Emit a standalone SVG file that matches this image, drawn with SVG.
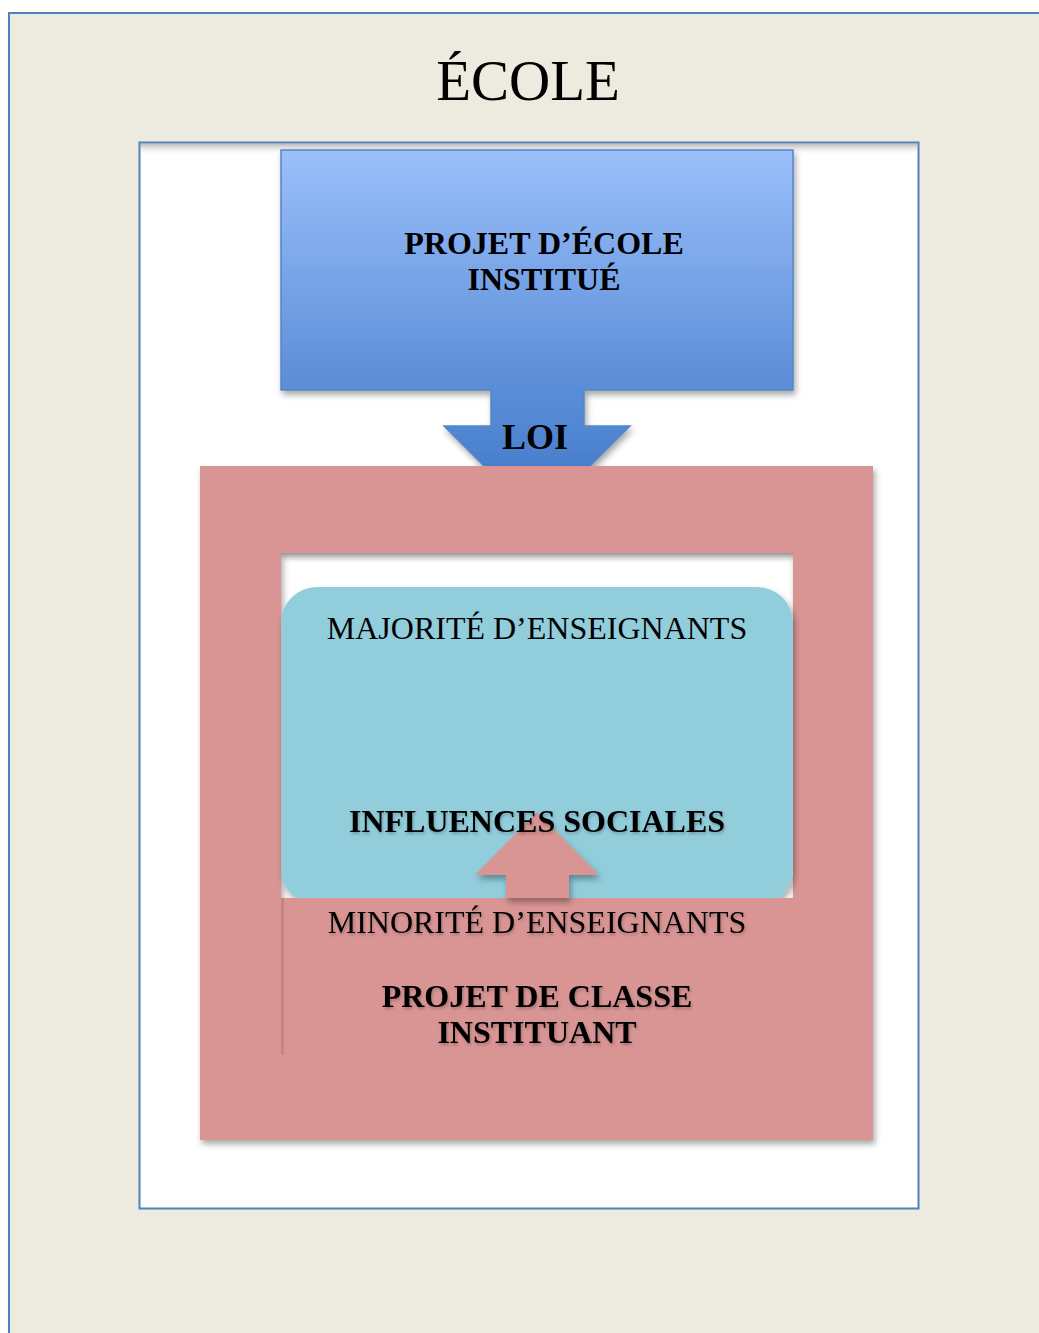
<svg xmlns="http://www.w3.org/2000/svg" width="1039" height="1333" viewBox="0 0 1039 1333">
<defs>
<linearGradient id="gBlue" gradientUnits="userSpaceOnUse" x1="0" y1="150" x2="0" y2="519">
<stop offset="0" stop-color="#9BBFFB"/>
<stop offset="0.62" stop-color="#5C8FD8"/>
<stop offset="1" stop-color="#3E77C8"/>
</linearGradient>
<filter id="sh" x="-10%" y="-10%" width="120%" height="120%">
<feDropShadow dx="2" dy="4" stdDeviation="3" flood-color="#000" flood-opacity="0.35"/>
</filter>
<filter id="tsh" x="-10%" y="-30%" width="120%" height="160%">
<feDropShadow dx="1" dy="2" stdDeviation="1.5" flood-color="#000" flood-opacity="0.25"/>
</filter>
<linearGradient id="inShadow" x1="0" y1="0" x2="0" y2="1">
<stop offset="0" stop-color="#888" stop-opacity="0.6"/>
<stop offset="1" stop-color="#fff" stop-opacity="0"/>
</linearGradient>
</defs>
<style>
.frame{stroke:#4F81BD;stroke-width:2}
.pink{fill:#D99594}
.t{font-family:"Liberation Serif","Times New Roman",serif;text-anchor:middle;fill:#000}
.b{font-weight:bold;font-size:32px}
.r{font-size:32px}
</style>
<rect width="1039" height="1333" fill="#FFFFFF"/>
<g id="ecole">
<rect class="frame" x="9" y="13" width="1040" height="1330" fill="#EDEBE0"/>
<text class="t" x="528" y="100" font-size="57">ÉCOLE</text>
</g>
<g id="zone">
<rect class="frame" x="139.5" y="142.5" width="779" height="1066" fill="#FFFFFF"/>
<rect x="140.5" y="143.5" width="777" height="12" fill="url(#inShadow)"/>
</g>
<g id="projet-ecole" filter="url(#sh)">
<path d="M281,150 H793 V390 H584 V426 H630 L537,519 L444,426 H491 V390 H281 Z" fill="url(#gBlue)" stroke="#5585C8" stroke-width="1.5"/>
</g>
<g id="projet-ecole-text">
<text class="t b" x="544" y="254">PROJET D’ÉCOLE</text>
<text class="t b" x="544" y="290">INSTITUÉ</text>
<text class="t" x="535" y="449" font-size="36" font-weight="bold">LOI</text>
</g>
<g id="cadre">
<rect x="281" y="553" width="512" height="502" fill="#FFFFFF"/>
<path class="pink" filter="url(#sh)" fill-rule="evenodd" d="M200,466 H873 V1140 H200 Z M281,553 V1055 H793 V553 Z"/>
<rect x="281" y="553" width="512" height="10" fill="url(#inShadow)"/>
</g>
<g id="majorite">
<rect x="281" y="587" width="512" height="318" rx="36" ry="36" fill="#92CDDC" filter="url(#sh)"/>
<text class="t r" x="537" y="639">MAJORITÉ D’ENSEIGNANTS</text>
</g>
<g id="minorite">
<rect class="pink" x="281" y="898" width="512" height="157"/>
<rect x="281" y="898" width="3" height="157" fill="#B97A79" opacity="0.6"/>
</g>
<g id="connectors">
<path class="pink" filter="url(#sh)" d="M537,812 L599,875 H569 V898 H506 V875 H475 Z"/>
</g>
<g id="labels" filter="url(#tsh)">
<text class="t b" x="537" y="832">INFLUENCES SOCIALES</text>
<text class="t r" x="537" y="933">MINORITÉ D’ENSEIGNANTS</text>
<text class="t b" x="537" y="1007">PROJET DE CLASSE</text>
<text class="t b" x="537" y="1043">INSTITUANT</text>
</g>
</svg>
